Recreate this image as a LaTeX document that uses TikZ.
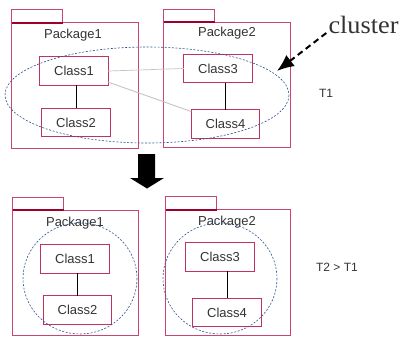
\documentclass[tikz,border=0pt]{standalone}
\usepackage{xcolor}
\usepackage{fontspec}
\setmainfont{Liberation Sans}
\newfontfamily\serifname{Liberation Serif}
\usetikzlibrary{arrows.meta}
\definecolor{pkgline}{RGB}{200,70,115}
\definecolor{tabline}{RGB}{158,0,46}
\definecolor{clsline}{RGB}{192,50,100}
\definecolor{clusterline}{RGB}{45,80,140}
\definecolor{assoc}{RGB}{195,195,195}
\tikzstyle{package}=[rectangle, minimum width=126pt, minimum height=125pt, inner sep=0pt]
\tikzstyle{pkgborder}=[draw=pkgline, line width=0.9pt]
\tikzstyle{tabbottom}=[draw=tabline, line width=1.8pt]
\tikzstyle{pkgname}=[font=\fontsize{13}{15}\selectfont]
\tikzstyle{classbox}=[rectangle, minimum width=68pt, minimum height=28pt, font=\fontsize{13}{15}\selectfont]
\tikzstyle{clsborder}=[draw=clsline, line width=0.9pt]
\tikzstyle{cluster}=[draw=clusterline, line width=0.6pt, dash pattern=on 2pt off 1.6pt]
\tikzstyle{timing}=[font=\fontsize{12}{14}\selectfont]

\begin{document}
\color{black!80}%
\begin{tikzpicture}[x=1pt,y=-1pt]
  \useasboundingbox (0,0) rectangle (402,338);

  %% Before: T1
  \draw (75,85.5) node[package] (P11) {};
  \draw (227,85) node[package] (P12) {};
  \draw (73,35) node[pkgname] (N11) {Package1};
  \draw (227,33) node[pkgname] (N12) {Package2};

  \draw (74,71) node[classbox] (C1) {Class1};
  \draw (76,122.5) node[classbox] (C2) {Class2};
  \draw (218,68.5) node[classbox] (C3) {Class3};
  \draw (225.5,124) node[classbox] (C4) {Class4};

  \foreach \p in {P11,P12} {
    \draw[pkgborder] (\p.south west) rectangle (\p.north east);
    \draw[pkgborder] (\p.north west) rectangle ++(51,-13);
    \draw[tabbottom] (\p.north west) -- ++(51,0);
  }
  \foreach \c in {C1,C2,C3,C4}
    \draw[clsborder] (\c.south west) rectangle (\c.north east);

  \draw[black, line width=0.7pt] (C2.north) -- (C2.north |- C1.south);
  \draw[black, line width=0.7pt] (C4.north) -- (C4.north |- C3.south);
  \draw[assoc, line width=0.7pt] (C1.east) -- (C3.west);
  \draw[assoc, line width=0.9pt] (C1.-18) -- (C4.160);

  \draw[cluster] (147,95) ellipse (142 and 48);

  %% Cluster label
  \draw (363.5,33) node[anchor=base, inner sep=0pt, xscale=1.05, font=\serifname\fontsize{25}{27}\selectfont] (L) {cluster};
  \coordinate (tip) at (277,71);
  \draw[black, line width=2pt, dash pattern=on 6pt off 4pt, -{Latex[length=17pt,width=14pt]}] ([xshift=-2pt]L.base west) -- (tip);
  \draw (326,93) node[timing] (T1) {T1};

  %% Step arrow
  \fill[black] (138,154) -- (155,154) -- (155,178) -- (164,178) -- (147,188.5) -- (130,178) -- (138,178) -- cycle;

  %% After: T2
  \draw (75.5,273) node[package, minimum width=125pt] (P21) {};
  \draw (228,272.5) node[package, minimum width=124pt] (P22) {};
  \draw (75,223) node[pkgname] (N21) {Package1};
  \draw (227,222) node[pkgname] (N22) {Package2};

  \draw (75,259) node[classbox] (D1) {Class1};
  \draw (77.5,310) node[classbox] (D2) {Class2};
  \draw (220,257) node[classbox] (D3) {Class3};
  \draw (227,312.5) node[classbox] (D4) {Class4};

  \foreach \p in {P21,P22} {
    \draw[pkgborder] (\p.south west) rectangle (\p.north east);
    \draw[pkgborder] (\p.north west) rectangle ++(51,-13);
    \draw[tabbottom] (\p.north west) -- ++(51,0);
  }
  \foreach \c in {D1,D2,D3,D4}
    \draw[clsborder] (\c.south west) rectangle (\c.north east);

  \draw[black, line width=0.7pt] (D2.north) -- (D2.north |- D1.south);
  \draw[black, line width=0.7pt] (D4.north) -- (D4.north |- D3.south);

  \draw[cluster] (80,278.5) ellipse (57 and 55.5);
  \draw[cluster] (220,278.5) ellipse (57 and 55.5);

  \draw (337,267) node[timing] (T2) {T2 > T1};
\end{tikzpicture}
\end{document}
